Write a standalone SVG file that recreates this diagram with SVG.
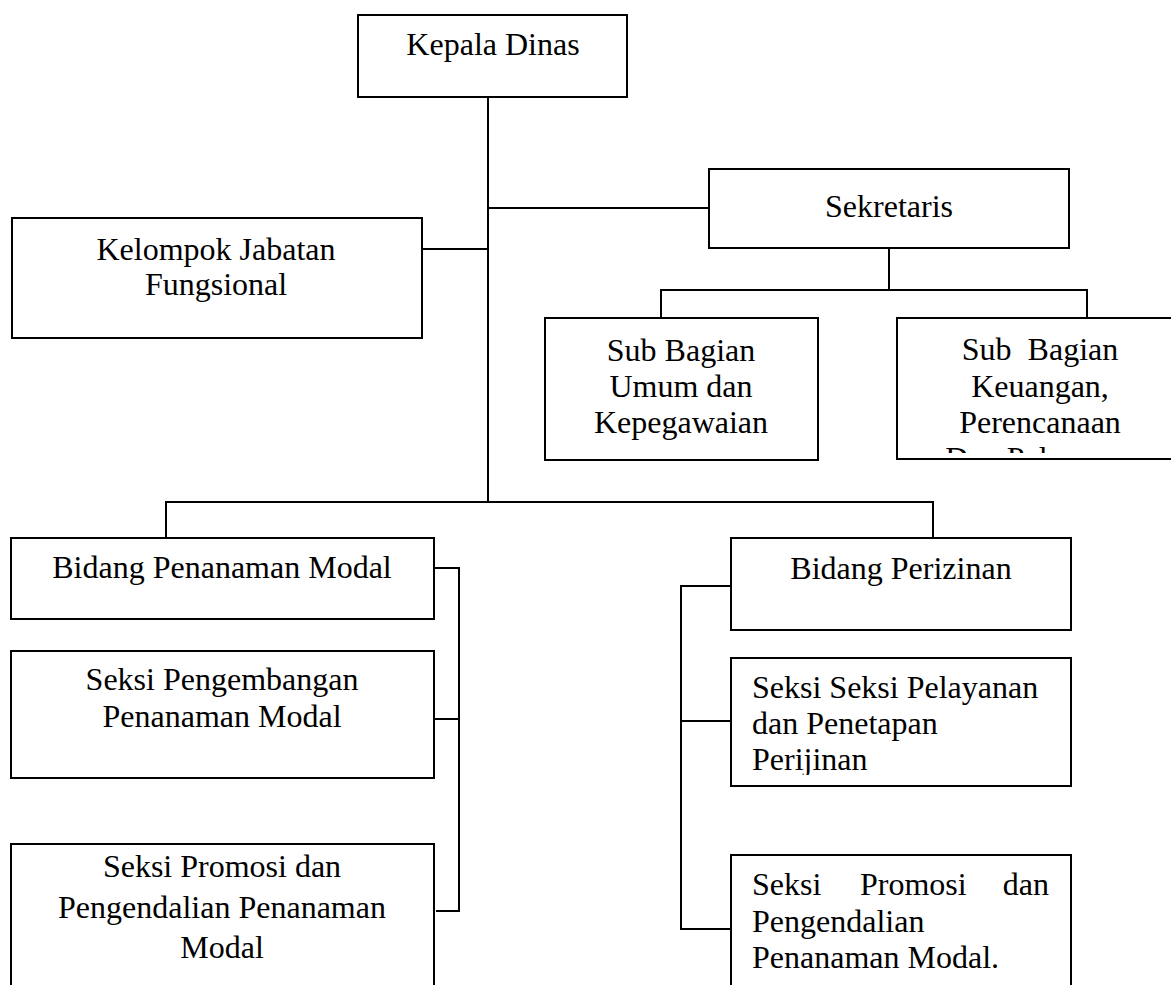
<svg xmlns="http://www.w3.org/2000/svg" width="1171" height="985" viewBox="0 0 1171 985">
<style>
.box{fill:#fff;stroke:#000;stroke-width:2}
.ln{fill:none;stroke:#000;stroke-width:2}
text{font-family:"Liberation Serif","Times New Roman",serif;font-size:32px;fill:#000}
.c{text-anchor:middle}
</style>
<defs>
<clipPath id="clipKeu"><rect x="897" y="318" width="280" height="135"/></clipPath>
<clipPath id="clipPel"><rect x="731" y="658" width="340" height="117"/></clipPath>
</defs>
<rect width="1171" height="985" fill="#fff"/>
<g id="connectors">
<path class="ln" d="M488 97V502"/>
<path class="ln" d="M488 208H709"/>
<path class="ln" d="M422 249H488"/>
<path class="ln" d="M889 248V290M661 318V290H1087V318"/>
<path class="ln" d="M166 538V502H933V538"/>
<path class="ln" d="M434 568H459V911H436M434 719H459"/>
<path class="ln" d="M731 586H681V929H731M681 721H731"/>
</g>
<g id="kepala-dinas">
<rect class="box" x="358" y="15" width="269" height="82"/>
<text class="c" x="493" y="55">Kepala Dinas</text>
</g>
<g id="sekretaris">
<rect class="box" x="709" y="169" width="360" height="79"/>
<text class="c" x="889" y="217">Sekretaris</text>
</g>
<g id="kelompok-jabatan">
<rect class="box" x="12" y="218" width="410" height="120"/>
<text class="c" x="216" y="260">Kelompok Jabatan</text>
<text class="c" x="216" y="295">Fungsional</text>
</g>
<g id="sub-bagian-umum">
<rect class="box" x="545" y="318" width="273" height="142"/>
<text class="c" x="681" y="361">Sub Bagian</text>
<text class="c" x="681" y="397">Umum dan</text>
<text class="c" x="681" y="433">Kepegawaian</text>
</g>
<g id="sub-bagian-keuangan">
<rect class="box" x="897" y="318" width="290" height="141"/>
<g clip-path="url(#clipKeu)">
<text class="c" x="1040" y="360" xml:space="preserve">Sub  Bagian</text>
<text class="c" x="1040" y="397">Keuangan,</text>
<text class="c" x="1040" y="433">Perencanaan</text>
<text class="c" x="1040" y="469">Dan Pelaporan</text>
</g>
</g>
<g id="bidang-penanaman-modal">
<rect class="box" x="11" y="538" width="423" height="81"/>
<text class="c" x="222" y="578">Bidang Penanaman Modal</text>
</g>
<g id="seksi-pengembangan">
<rect class="box" x="11" y="651" width="423" height="127"/>
<text class="c" x="222" y="690">Seksi Pengembangan</text>
<text class="c" x="222" y="727">Penanaman Modal</text>
</g>
<g id="seksi-promosi-kiri">
<rect class="box" x="11" y="844" width="423" height="160"/>
<text class="c" x="222" y="877">Seksi Promosi dan</text>
<text class="c" x="222" y="918">Pengendalian Penanaman</text>
<text class="c" x="222" y="958">Modal</text>
</g>
<g id="bidang-perizinan">
<rect class="box" x="731" y="538" width="340" height="92"/>
<text class="c" x="901" y="579">Bidang Perizinan</text>
</g>
<g id="seksi-pelayanan">
<rect class="box" x="731" y="658" width="340" height="128"/>
<g clip-path="url(#clipPel)">
<text x="752" y="698">Seksi Seksi Pelayanan</text>
<text x="752" y="734">dan Penetapan</text>
<text x="752" y="770">Perijinan</text>
</g>
</g>
<g id="seksi-promosi-kanan">
<rect class="box" x="731" y="855" width="340" height="150"/>
<text x="752" y="895">Seksi</text>
<text x="860" y="895">Promosi</text>
<text x="1049" y="895" text-anchor="end">dan</text>
<text x="752" y="932">Pengendalian</text>
<text x="752" y="968">Penanaman Modal.</text>
</g>
</svg>
